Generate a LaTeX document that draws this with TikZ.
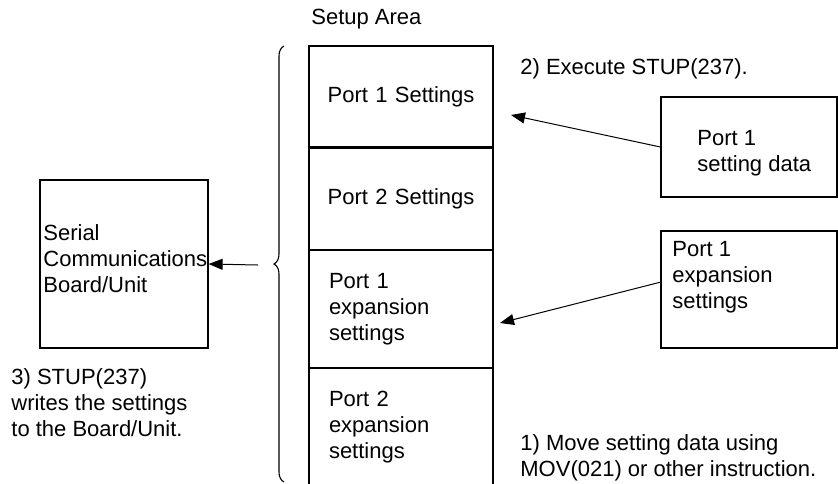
\documentclass[tikz,border=0pt]{standalone}
\usepackage{fontspec}
\setmainfont{Liberation Sans}
\usetikzlibrary{positioning,arrows.meta,decorations.pathreplacing}

\begin{document}
\begin{tikzpicture}[x=0.5pt,y=-0.5pt,
    box/.style={draw,line width=0.6pt,inner sep=0pt},
    cell/.style={box,minimum width=92pt,text width=72pt,inner xsep=10pt,inner ysep=0pt,font=\fontsize{11}{13}\selectfont},
    widecell/.style={cell,text width=84pt,inner xsep=4pt,align=center},
    txt/.style={anchor=west,align=left,inner sep=0pt,font=\fontsize{11}{13}\selectfont},
    arr/.style={line width=0.5pt,-{Triangle[length=7pt,width=5.5pt]}}]
  \useasboundingbox (0,0) rectangle (838,483);
  % setup area
  \node[txt] (area) at (311,19) {Setup Area};
  \node[widecell,minimum height=50.5pt] (s1) at (401,96.5) {Port 1 Settings};
  \node[widecell,minimum height=50.5pt,below=0pt of s1] (s2) {Port 2 Settings};
  \node[cell,align=left,minimum height=58.5pt,below=0pt of s2] (e1) {Port 1\\expansion\\settings};
  \node[cell,align=left,minimum height=58pt,below=0pt of e1] (e2) {Port 2\\expansion\\settings};
  \draw[line width=0.55pt,decorate,decoration={brace,amplitude=5pt}] (284,482) -- (284,46);
  % board
  \node[box,minimum width=84pt,minimum height=84pt] (scu) at (124,264) {};
  \node[txt] (scut) at (43,259) {Serial\\Communications\\Board/Unit};
  \node[txt] (step3) at (11,403) {3) STUP(237)\\writes the settings\\to the Board/Unit.};
  \coordinate (bt) at (258,265);
  \draw[arr] (bt) -- (scu.east);
  % data
  \node[txt] (step2) at (520,69) {2) Execute STUP(237).};
  \node[box,minimum width=88pt,minimum height=50pt] (d1) at (749,147) {};
  \node[txt] (d1t) at (697,153.5) {Port 1\\setting data};
  \node[box,minimum width=88pt,minimum height=58.5pt] (d2) at (749,289.5) {};
  \node[txt] (d2t) at (672,277) {Port 1\\expansion\\settings};
  \node[txt] (step1) at (520,457.5) {1) Move setting data using\\MOV(021) or other instruction.};
  \coordinate (t1) at (511,115);
  \coordinate (f2) at (661,282);
  \coordinate (t2) at (500,323);
  \draw[arr] (d1.west) -- (t1);
  \draw[arr] (f2) -- (t2);
\end{tikzpicture}
\end{document}
